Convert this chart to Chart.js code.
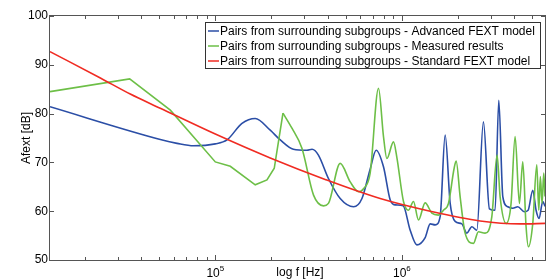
<!DOCTYPE html>
<html>
<head>
<meta charset="utf-8">
<script src="https://cdn.jsdelivr.net/npm/chart.js@4.4.1/dist/chart.umd.min.js"></script>
<style>
  html, body { margin: 0; padding: 0; background: #fff; }
  canvas { display: block; }
</style>
</head>
<body>
<canvas id="grafico" width="546" height="280"></canvas>
<script>
// frecuencias [Hz] y niveles [dB]
const freqAdvanced = [13000, 50700, 62400, 76500, 100000, 115500, 139000, 163700, 197000, 223000,
  262000, 310000, 330000, 357000, 404000, 467000, 551000, 611000, 676000, 728000,
  797000, 866000, 921000, 1016000, 1108000, 1203000, 1333000, 1418000, 1508000, 1604000,
  1706000, 1815000, 1930000, 2096000, 2229000, 2371000, 2522000, 2736000, 2946000, 3160000,
  3307000, 3475000, 3697000, 3931000, 4181000, 4537000, 4749000, 5031000, 5240000, 5437000,
  5691000, 5850000];
const afextAdvanced = [81.4, 74.7, 73.9, 73.4, 73.8, 74.6, 78.0, 79.0, 76.6, 74.6,
  72.7, 72.5, 72.7, 71.5, 66.7, 62.6, 60.9, 62.6, 68.6, 72.5,
  69.1, 62.3, 61.3, 61.1, 56.1, 53.1, 54.6, 57.4, 57.2, 58.9,
  75.6, 61.6, 57.9, 57.4, 55.5, 56.8, 56.1, 78.3, 60.5, 60.2,
  82.7, 63.0, 60.9, 60.6, 60.9, 59.9, 60.2, 64.3, 60.2, 58.5,
  62.0, 61.0];

const freqMeasured = [13000, 34750, 57400, 100000, 120300, 163700, 189200, 207000, 230500, 257500,
  291300, 336100, 380300, 404000, 467000, 528500, 585500, 622800, 676000, 749400,
  797000, 831200, 901600, 940200, 1020000, 1085000, 1154000, 1227000, 1333000, 1448000,
  1570000, 1670000, 1777000, 1906000, 1954000, 2052000, 2183000, 2418000, 2572000, 2794000,
  3035000, 3239000, 3361000, 3621000, 3849000, 4045000, 4265000, 4447000, 4632000, 4765000,
  5031000, 5286000, 5417000, 5525000, 5642000, 5761000, 5850000];
const afextMeasured = [84.5, 87.1, 80.7, 70.1, 69.2, 65.4, 66.4, 68.8, 80.1, 77.0,
  72.9, 63.3, 61.1, 61.6, 69.8, 66.0, 64.0, 64.6, 67.8, 85.2,
  75.3, 70.8, 74.2, 71.0, 62.0, 60.2, 62.0, 58.2, 61.7, 59.6,
  59.2, 60.2, 61.6, 68.8, 70.3, 63.0, 55.5, 53.4, 55.8, 55.5,
  58.9, 71.5, 63.0, 57.5, 61.6, 75.3, 61.6, 70.1, 56.8, 52.7,
  57.5, 69.5, 60.2, 67.1, 61.6, 67.8, 63.0];

const freqStandard = [13000, 24200, 35000, 50700, 100000, 197000, 388000, 765000, 1418000, 2627000, 4300000, 5850000];
const afextStandard = [92.7, 87.3, 84.0, 81.1, 75.8, 70.9, 66.5, 62.6, 60.0, 58.0, 57.4, 57.5];

const etiquetas = [
  "Pairs from surrounding subgroups - Advanced FEXT model",
  "Pairs from surrounding subgroups - Measured results",
  "Pairs from surrounding subgroups - Standard FEXT model"
];
const colores = ["#2b4ea6", "#6dbf47", "#f02b22"];

const xTicks = [1e5, 1e6];
const xTickExp = ["5", "6"];
const yTicks = [50, 60, 70, 80, 90, 100];

const FUENTE = '"Liberation Sans", Arial, sans-serif';
const toPts = (xs, ys) => xs.map((f, i) => ({ x: f, y: ys[i] }));

// la medicion es poligonal al principio (pocos puntos), suave despues
const corte = freqMeasured.indexOf(230500);
const medidoA = toPts(freqMeasured, afextMeasured).slice(0, corte + 1);
const medidoB = toPts(freqMeasured, afextMeasured).slice(corte);

// ejes estilo matlab: caja, ticks hacia adentro, titulos y leyenda
const marco = {
  id: "marco",
  afterDraw(chart) {
    const { ctx, chartArea: a, scales: { x, y } } = chart;
    ctx.save();
    ctx.strokeStyle = "#555";
    ctx.lineWidth = 1;
    ctx.strokeRect(a.left - 0.5, a.top - 0.5, a.right - a.left + 1, a.bottom - a.top + 1);

    ctx.beginPath();
    yTicks.forEach(v => {
      const py = Math.round(y.getPixelForValue(v)) + 0.5;
      ctx.moveTo(a.left, py); ctx.lineTo(a.left + 4, py);
      ctx.moveTo(a.right, py); ctx.lineTo(a.right - 4, py);
    });
    for (let k = 4; k <= 6; k++) {
      for (let m = 1; m <= 9; m++) {
        const v = m * Math.pow(10, k);
        if (v < x.min || v > x.max) continue;
        const px = Math.round(x.getPixelForValue(v)) + 0.5;
        const len = m === 1 ? 5 : 3;
        ctx.moveTo(px, a.bottom); ctx.lineTo(px, a.bottom - len);
        ctx.moveTo(px, a.top); ctx.lineTo(px, a.top + len);
      }
    }
    ctx.stroke();

    // etiquetas eje x con exponente
    ctx.fillStyle = "#000";
    ctx.textBaseline = "alphabetic";
    ctx.textAlign = "left";
    xTicks.forEach((v, i) => {
      const px = x.getPixelForValue(v);
      ctx.font = "12px " + FUENTE;
      const w1 = ctx.measureText("10").width;
      ctx.font = "8px " + FUENTE;
      const w2 = ctx.measureText(xTickExp[i]).width;
      const sx = px - (w1 + w2) / 2;
      ctx.font = "12px " + FUENTE;
      ctx.fillText("10", sx, 277);
      ctx.font = "8px " + FUENTE;
      ctx.fillText(xTickExp[i], sx + w1, 271);
    });

    ctx.font = "12px " + FUENTE;
    ctx.textAlign = "center";
    ctx.fillText("log f [Hz]", 300, 276);

    ctx.save();
    ctx.translate(30, (a.top + a.bottom) / 2);
    ctx.rotate(-Math.PI / 2);
    ctx.fillText("Afext [dB]", 0, 0);
    ctx.restore();

    // leyenda
    ctx.fillStyle = "#fff";
    ctx.fillRect(205, 22, 335, 46);
    ctx.strokeStyle = "#333";
    ctx.strokeRect(205.5, 22.5, 335, 46);
    ctx.textAlign = "left";
    ctx.textBaseline = "middle";
    etiquetas.forEach((txt, i) => {
      const yy = 31 + i * 15;
      ctx.strokeStyle = colores[i];
      ctx.lineWidth = 1.5;
      ctx.beginPath();
      ctx.moveTo(208, yy); ctx.lineTo(219, yy);
      ctx.stroke();
      ctx.fillStyle = "#000";
      ctx.fillText(txt, 220, yy + 0.5);
    });
    ctx.restore();
  }
};

new Chart(document.getElementById("grafico"), {
  type: "line",
  data: {
    datasets: [
      { label: etiquetas[0], data: toPts(freqAdvanced, afextAdvanced), borderColor: colores[0], order: 3 },
      { label: etiquetas[1], data: medidoA, borderColor: colores[1], order: 2, cubicInterpolationMode: "default", tension: 0 },
      { label: etiquetas[1], data: medidoB, borderColor: colores[1], order: 2 },
      { label: etiquetas[2], data: toPts(freqStandard, afextStandard), borderColor: colores[2], order: 1 }
    ]
  },
  options: {
    responsive: false,
    animation: false,
    devicePixelRatio: 1,
    layout: { padding: { top: 16, right: 1, bottom: 0, left: 0 } },
    elements: {
      point: { radius: 0 },
      line: { borderWidth: 1.6, cubicInterpolationMode: "monotone", fill: false }
    },
    plugins: { legend: { display: false }, tooltip: { enabled: false } },
    scales: {
      x: {
        type: "logarithmic",
        bounds: "data",
        min: 13000,
        max: 5850000,
        ticks: { display: false },
        grid: { display: false, drawTicks: false },
        border: { display: false },
        afterFit: s => { s.height = 20; }
      },
      y: {
        min: 50,
        max: 100,
        ticks: {
          stepSize: 10,
          padding: 2,
          color: "#000",
          font: { family: FUENTE, size: 12 }
        },
        grid: { display: false, drawTicks: false },
        border: { display: false },
        afterFit: s => { s.width = 50; }
      }
    }
  },
  plugins: [marco]
});
</script>
</body>
</html>
